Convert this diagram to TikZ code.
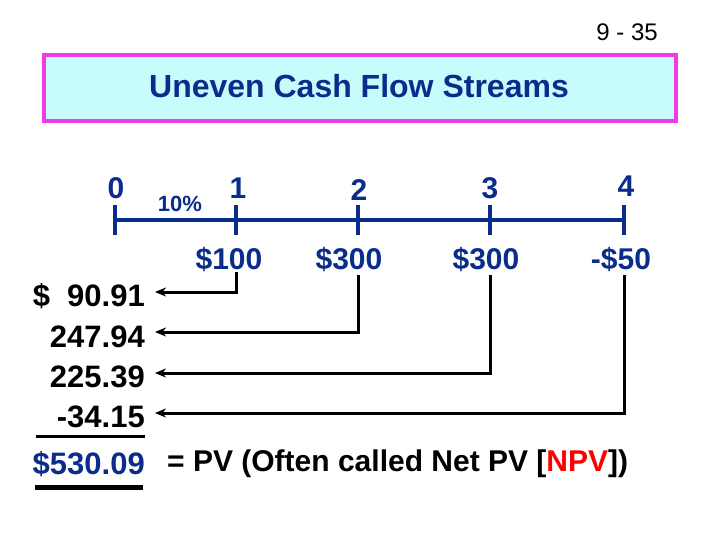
\documentclass[tikz,border=0pt]{standalone}
\usepackage{fontspec}
\usetikzlibrary{arrows.meta}
\setmainfont{Liberation Sans}
\definecolor{dblue}{HTML}{0A2D8C}
\definecolor{mag}{HTML}{F03CE6}
\definecolor{cy}{HTML}{C8FCFC}
\begin{document}
\begin{tikzpicture}[x=1pt,y=-1pt,
  lbl/.style={font=\fontsize{30}{32}\selectfont\bfseries,text=dblue,inner sep=0},
  val/.style={font=\fontsize{31}{33}\selectfont\bfseries,inner sep=0,anchor=east},
  tl/.style={dblue,line width=3.5pt},
  ar/.style={line width=3pt,-{Stealth[length=11pt,width=9pt]}}]
\useasboundingbox (0,0) rectangle (720,540);
\node[font=\fontsize{24}{26}\selectfont,anchor=east,inner sep=0] (pg) at (658,32) {9 - 35};
\node[draw=mag,fill=cy,line width=3.5pt,minimum width=632,minimum height=66,inner sep=0] (box) at (360,88) {};
\node[font=\fontsize{32}{34}\selectfont\bfseries,text=dblue,inner sep=0] (title) at (359,86) {Uneven Cash Flow Streams};
\coordinate (t0) at (115,220); \coordinate (t1) at (236,220); \coordinate (t2) at (358,220);
\coordinate (t3) at (490,220); \coordinate (t4) at (624,220);
\draw[tl] (t0) -- (t4);
\foreach \t in {t0,t1,t2,t3,t4}{\draw[tl] ([yshift=-15]\t) -- ([yshift=15]\t);}
\node[lbl] (n0) at (116,188) {0};
\node[lbl] (n1) at (238,188) {1};
\node[lbl] (n2) at (359,190) {2};
\node[lbl] (n3) at (490,188) {3};
\node[lbl] (n4) at (626,186) {4};
\node[font=\fontsize{22}{24}\selectfont\bfseries,text=dblue,inner sep=0] (r) at (180,204) {10\%};
\node[lbl] (c1) at (229,259) {\$100};
\node[lbl] (c2) at (349,259) {\$300};
\node[lbl] (c3) at (486,259) {\$300};
\node[lbl] (c4) at (621,259) {-\$50};
\node[val] (v1) at (145,296) {\$~~90.91};
\node[val] (v2) at (145,337) {247.94};
\node[val] (v3) at (145,377) {225.39};
\node[val] (v4) at (145,417) {-34.15};
\node[val,text=dblue] (v5) at (145,464) {\$530.09};
\node[font=\fontsize{30}{32}\selectfont\bfseries,anchor=west,inner sep=0] (eq) at (167,464) {= PV (Often called Net PV [\textcolor{red}{NPV}])};
\draw[ar] (236,272) |- (155,292);
\draw[ar] (358,275) |- (155,332);
\draw[ar] (490,275) |- (155,373);
\draw[ar] (624,275) |- (155,413);
\draw[line width=3pt] (36,436) -- (145,436);
\draw[line width=5pt] (35,487) -- (143,487);
\end{tikzpicture}
\end{document}
